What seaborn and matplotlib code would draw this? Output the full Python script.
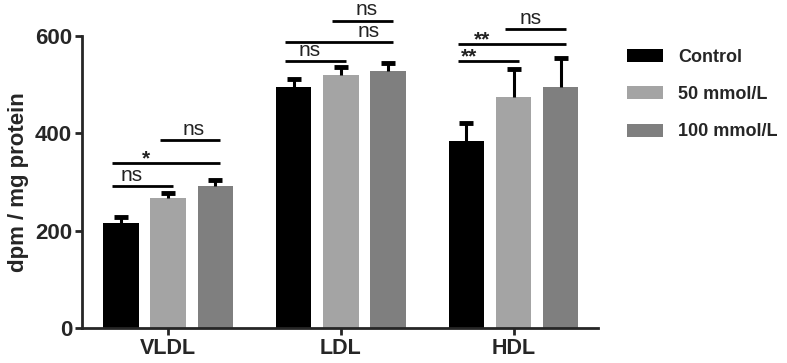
import matplotlib
matplotlib.use("Agg")
import matplotlib.pyplot as plt
import seaborn as sns
import pandas as pd

lipids = ['VLDL', 'LDL', 'HDL']
groups = ['Control', '50 mmol/L', '100 mmol/L']
control_mean = [216, 495, 385]
control_sem = [12, 16, 37]
mmol50_mean = [267, 520, 475]
mmol50_sem = [10, 17, 57]
mmol100_mean = [292, 528, 495]
mmol100_sem = [12, 17, 60]
bar_colors = ['#000000', '#a4a4a4', '#7f7f7f']

# significance brackets: (lipid, first group, second group, label)
comparisons = [
    ('VLDL', 0, 1, 'ns'), ('VLDL', 0, 2, '*'), ('VLDL', 1, 2, 'ns'),
    ('LDL', 0, 1, 'ns'), ('LDL', 0, 2, 'ns'), ('LDL', 1, 2, 'ns'),
    ('HDL', 0, 1, '**'), ('HDL', 0, 2, '**'), ('HDL', 1, 2, 'ns'),
]

# bracket height (data units) and text x offset from the group centre
bracket_y = [292, 339, 386, 548, 588, 632, 548, 583, 614]
text_dx = [-0.21, -0.13, 0.15, -0.18, 0.16, 0.15, -0.26, -0.18, 0.10]

df = pd.DataFrame({
    'lipid': lipids * 3,
    'group': [g for g in groups for _ in lipids],
    'value': control_mean + mmol50_mean + mmol100_mean,
})
sems = [control_sem, mmol50_sem, mmol100_sem]

sns.set_style('ticks')
plt.rcParams['font.family'] = ['Liberation Sans', 'DejaVu Sans']

fig = plt.figure(figsize=(7.87, 3.63), dpi=100)
ax = fig.add_axes([0.104, 0.0964, 0.656, 0.804])

sns.barplot(data=df, x='lipid', y='value', hue='group', order=lipids,
            hue_order=groups, palette=bar_colors, saturation=1,
            errorbar=None, width=0.82, gap=0.25, linewidth=0, ax=ax)

# upward error bars on each bar (lower cap hidden)
bar_conts = list(ax.containers)
for k, cont in enumerate(bar_conts):
    xs = [b.get_x() + b.get_width() / 2 for b in cont]
    hs = [b.get_height() for b in cont]
    eb = ax.errorbar(xs, hs, yerr=[[0] * len(hs), sems[k]], fmt='none',
                     ecolor='black', elinewidth=2.2, capsize=5, capthick=3.5,
                     zorder=5)
    eb.lines[1][0].set_visible(False)

# brackets
offs = [-0.273, 0, 0.273]
for (lip, a, b, lab), yb, dx in zip(comparisons, bracket_y, text_dx):
    c = lipids.index(lip)
    ax.plot([c + offs[a] - 0.05, c + offs[b] + 0.03], [yb, yb],
            color='black', lw=2, clip_on=False, solid_capstyle='butt')
    star = '*' in lab
    ax.text(c + dx, yb - 11 if star else yb + 3, lab, ha='center',
            va='bottom', fontsize=15, color='#222222',
            fontweight='bold' if star else 'normal')

ax.set_xlim(-0.5, 2.49)
ax.set_ylim(0, 600)
ax.set_yticks([0, 200, 400, 600])
ax.set_xlabel('')
ax.set_ylabel('dpm / mg protein', fontsize=16, fontweight='bold', labelpad=4)
sns.despine(ax=ax)
for s in ['left', 'bottom']:
    ax.spines[s].set_linewidth(2)
ax.tick_params(axis='both', length=5, width=2, pad=2)
ax.tick_params(axis='y', labelsize=16)
ax.tick_params(axis='x', labelsize=15.5)
for t in ax.get_xticklabels() + ax.get_yticklabels():
    t.set_fontweight('bold')

handles, labels = ax.get_legend_handles_labels()
ax.legend(handles, labels, loc='upper left', bbox_to_anchor=(0.787, 0.885),
          bbox_transform=fig.transFigure, frameon=False,
          prop={'weight': 'bold', 'size': 13}, handlelength=2.0,
          handleheight=0.72, handletextpad=0.85, labelspacing=1.12,
          borderaxespad=0)

fig.savefig('out.png', dpi=100)
